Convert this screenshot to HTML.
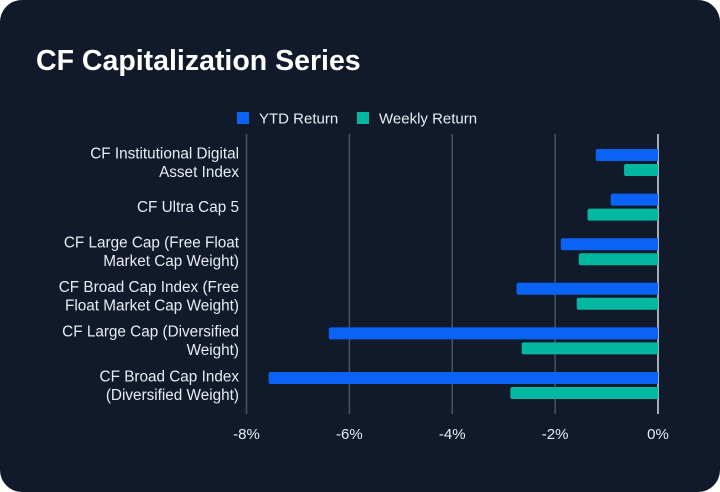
<!DOCTYPE html>
<html><head><meta charset="utf-8"><style>
html,body{margin:0;padding:0;background:#fff;}
#card{position:absolute;left:0;top:0;width:720px;height:492px;background:#111a2b;border-radius:22px;overflow:hidden;font-family:"Liberation Sans",sans-serif;}
svg{position:absolute;left:0;top:0;}
</style></head><body>
<div id="card">
<svg id="chart" width="720" height="492">
<text x="36" y="70" fill="#ffffff" font-size="28.5" font-weight="bold" font-family="Liberation Sans, sans-serif">CF Capitalization Series</text>
<g>
<rect x="237" y="112" width="12" height="12" fill="#0b63f6"/>
<text x="259" y="123.5" fill="#e8ecf2" font-size="15">YTD Return</text>
<rect x="357" y="112" width="12" height="12" fill="#03b8a0"/>
<text x="379" y="123.5" fill="#e8ecf2" font-size="15">Weekly Return</text>
</g>
<g id="grid"></g><g id="bars"></g><g id="labels"></g>
</svg>
</div>
<script>
const categories = [["CF Institutional Digital","Asset Index"],["CF Ultra Cap 5"],["CF Large Cap (Free Float","Market Cap Weight)"],["CF Broad Cap Index (Free","Float Market Cap Weight)"],["CF Large Cap (Diversified","Weight)"],["CF Broad Cap Index","(Diversified Weight)"]];
const ytdValues = [-1.21, -0.92, -1.89, -2.75, -6.40, -7.57];
const weeklyValues = [-0.66, -1.37, -1.54, -1.58, -2.65, -2.87];
const tickValues = [-8, -6, -4, -2, 0];
const tickLabels = ["-8%", "-6%", "-4%", "-2%", "0%"];

const NS = "http://www.w3.org/2000/svg";
const x0 = 246.5, x1 = 658, vmin = -8, vmax = 0;
function xScale(v){ return x0 + (v - vmin) / (vmax - vmin) * (x1 - x0); }
const rowTop = 149, rowStep = 44.6, barH = 12, gap = 3;
function yRow(i){ return rowTop + i * rowStep; }
function mk(tag, attrs){ const e = document.createElementNS(NS, tag); for (const k in attrs) e.setAttribute(k, attrs[k]); return e; }

const grid = document.getElementById('grid');
tickValues.forEach((t, i) => {
  const x = xScale(t);
  const l = mk('line', {x1:x, x2:x, y1:134, y2:414, stroke: t === 0 ? '#d8dce3' : '#4a5261', 'stroke-width': 1.5});
  
  
  grid.appendChild(l);
  const tx = mk('text', {x:x, y:439, fill:'#e8ecf2', 'font-size':15, 'text-anchor':'middle'});
  tx.textContent = tickLabels[i];
  
  
  grid.appendChild(tx);
});

const bars = document.getElementById('bars');
function bar(v, y, color, name){
  const xa = xScale(v), xb = xScale(0);
  const r = mk('path', {d: `M${xb},${y} L${xa+2},${y} Q${xa},${y} ${xa},${y+2} L${xa},${y+barH-2} Q${xa},${y+barH} ${xa+2},${y+barH} L${xb},${y+barH} Z`, fill: color});
  
  
  bars.appendChild(r);
}
ytdValues.forEach((v, i) => bar(v, yRow(i), '#0b63f6', 'ytd-bar'));
weeklyValues.forEach((v, i) => bar(v, yRow(i) + barH + gap, '#03b8a0', 'weekly-bar'));

const labels = document.getElementById('labels');
categories.forEach((lines, i) => {
  const cy = yRow(i) + barH + gap/2;
  const t = mk('text', {x:239, fill:'#e8ecf2', 'font-size':15.3, 'text-anchor':'end'});
  
  
  const lh = 18.5;
  const startY = cy - (lines.length - 1) * lh / 2 + 5;
  lines.forEach((ln, j) => {
    const s = mk('tspan', {x:239, y: startY + j * lh});
    s.textContent = ln;
    t.appendChild(s);
  });
  labels.appendChild(t);
});
</script>
</body></html>
